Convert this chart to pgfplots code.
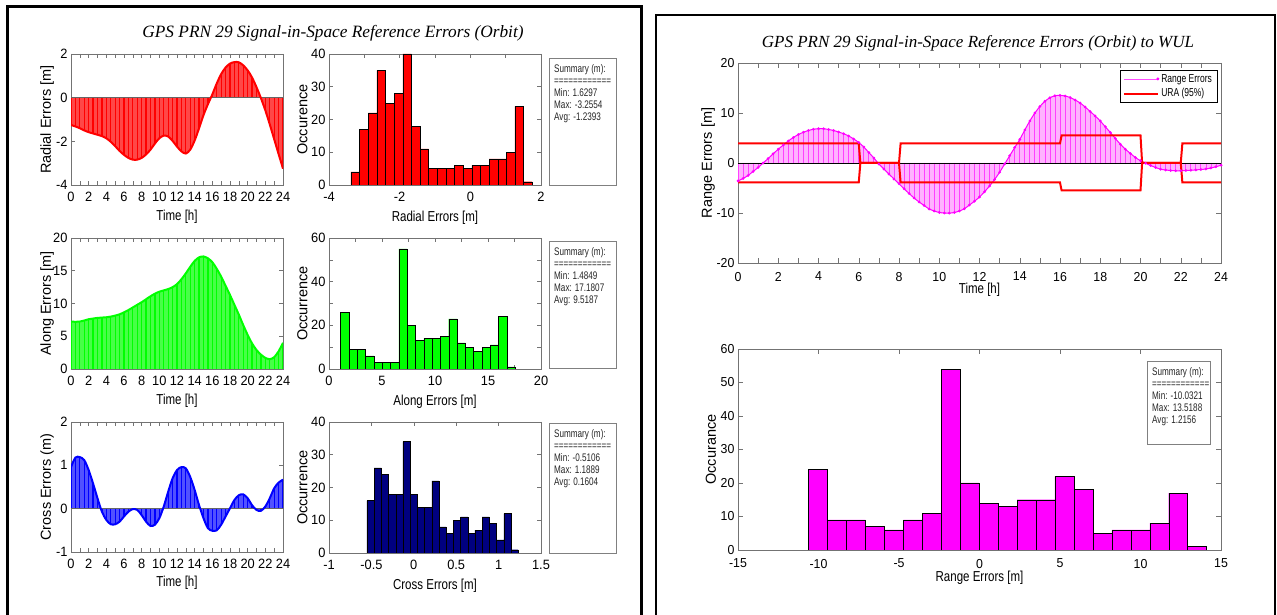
\documentclass[border=0pt]{standalone}
\usepackage{fontspec}
\usepackage{pgfplots}
\usepackage{pgfplotstable}
\pgfplotsset{compat=1.18}
\setmainfont{Liberation Sans}
\newfontfamily\tickfont[FakeStretch=0.95]{Liberation Sans}
\newfontfamily\labfont[FakeStretch=0.8]{Liberation Sans}
\newfontfamily\smallfont[FakeStretch=0.74]{Liberation Sans}
\newfontfamily\titlefont{Liberation Serif}
\definecolor{mag}{RGB}{255,0,255}
\definecolor{rd}{RGB}{255,0,0}
\definecolor{gr}{RGB}{0,255,0}
\definecolor{bl}{RGB}{0,0,255}
\definecolor{navy}{RGB}{0,0,128}

\pgfplotstableread{
t v
0 -1.25
0.5 -1.32
1 -1.40
1.5 -1.50
2 -1.58
2.5 -1.64
3 -1.70
3.5 -1.76
4 -1.86
4.5 -2.02
5 -2.22
5.5 -2.44
6 -2.62
6.5 -2.76
7 -2.84
7.5 -2.84
8 -2.76
8.5 -2.60
9 -2.38
9.5 -2.10
10 -1.86
10.5 -1.74
11 -1.78
11.5 -1.98
12 -2.24
12.5 -2.46
13 -2.56
13.5 -2.38
14 -1.96
14.5 -1.40
15 -0.80
15.5 -0.30
16 0.15
16.5 0.65
17 1.08
17.5 1.38
18 1.56
18.5 1.63
19 1.62
19.5 1.48
20 1.25
20.5 0.92
21 0.48
21.5 -0.02
22 -0.58
22.5 -1.22
23 -1.90
23.5 -2.58
24 -3.25
}\radial

\pgfplotstableread{
t v
0 7.25
0.5 7.2
1 7.25
1.5 7.4
2 7.6
2.5 7.7
3 7.8
3.5 7.85
4 7.9
4.5 8.0
5 8.15
5.5 8.35
6 8.65
6.5 9.0
7 9.4
7.5 9.8
8 10.2
8.5 10.65
9 11.1
9.5 11.5
10 11.8
10.5 12.0
11 12.2
11.5 12.5
12 12.95
12.5 13.7
13 14.6
13.5 15.6
14 16.5
14.5 17.05
15 17.18
15.5 16.9
16 16.3
16.5 15.3
17 14.1
17.5 12.7
18 11.3
18.5 9.8
19 8.3
19.5 6.7
20 5.2
20.5 3.9
21 2.9
21.5 2.2
22 1.7
22.5 1.5
23 1.8
23.5 2.7
24 4.0
}\along

\pgfplotstableread{
t v
0 0.96
0.5 1.18
1 1.19
1.5 1.12
2 0.89
2.5 0.58
3 0.24
3.5 -0.07
4 -0.26
4.5 -0.36
5 -0.36
5.5 -0.30
6 -0.18
6.5 -0.07
7 -0.01
7.5 -0.03
8 -0.15
8.5 -0.30
9 -0.40
9.5 -0.37
10 -0.22
10.5 0.05
11 0.39
11.5 0.70
12 0.89
12.5 0.96
13 0.93
13.5 0.73
14 0.43
14.5 0.08
15 -0.22
15.5 -0.45
16 -0.51
16.5 -0.50
17 -0.37
17.5 -0.18
18 0.01
18.5 0.20
19 0.31
19.5 0.33
20 0.24
20.5 0.08
21 -0.03
21.5 -0.05
22 0.05
22.5 0.24
23 0.47
23.5 0.60
24 0.67
}\cross

\pgfplotstableread{
t v
0 -3.6
0.25 -3.1
0.5 -2.5
0.75 -1.7
1 -0.9
1.25 0.0
1.5 0.9
1.75 1.85
2 2.75
2.25 3.6
2.5 4.4
2.75 5.1
3 5.7
3.25 6.15
3.5 6.5
3.75 6.75
4 6.85
4.25 6.85
4.5 6.7
4.75 6.5
5 6.2
5.25 5.85
5.5 5.4
5.75 4.8
6 4.1
6.25 3.2
6.5 2.1
6.75 1.0
7 -0.2
7.25 -1.2
7.5 -2.2
7.75 -3.2
8 -4.15
8.25 -5.15
8.5 -6.1
8.75 -7.0
9 -7.8
9.25 -8.5
9.5 -9.2
9.75 -9.6
10 -9.9
10.25 -10.0
10.5 -10.03
10.75 -9.9
11 -9.6
11.25 -9.15
11.5 -8.4
11.75 -7.65
12 -6.8
12.25 -5.75
12.5 -4.6
12.75 -3.3
13 -1.85
13.25 -0.2
13.5 1.45
13.75 3.1
14 4.7
14.25 6.6
14.5 8.4
14.75 10.0
15 11.3
15.25 12.35
15.5 13.05
15.75 13.45
16 13.52
16.25 13.4
16.5 13.1
16.75 12.6
17 12.0
17.25 11.2
17.5 10.3
17.75 9.4
18 8.4
18.25 7.25
18.5 6.1
18.75 4.9
19 3.75
19.25 2.75
19.5 1.9
19.75 1.1
20 0.45
20.25 -0.05
20.5 -0.5
20.75 -0.9
21 -1.25
21.25 -1.4
21.5 -1.5
21.75 -1.55
22 -1.55
22.25 -1.5
22.5 -1.45
22.75 -1.38
23 -1.3
23.25 -1.2
23.5 -1.0
23.75 -0.75
24 -0.45
}\range

\pgfplotstableread{
t v
0 3.9
6 3.9
6.08 0
8 0
8.08 3.9
16 3.9
16.08 5.5
20 5.5
20.08 0
22 0
22.08 3.9
24 3.9
}\uraup

\pgfplotstableread{
t v
0 -3.9
6 -3.9
6.08 0
8 0
8.08 -3.9
16 -3.9
16.08 -5.5
20 -5.5
20.08 0
22 0
22.08 -3.9
24 -3.9
}\uralow

\pgfplotstableread{
x n
-3.3775 4
-3.1333 17
-2.8890 22
-2.6448 35
-2.4005 25
-2.1563 28
-1.9120 40
-1.6678 18
-1.4235 11
-1.1793 5
-0.9350 5
-0.6908 5
-0.4465 6
-0.2023 5
0.0420 6
0.2862 6
0.5305 8
0.7747 8
1.0190 10
1.2632 24
1.5075 1
1.7517 0
}\radhist

\pgfplotstableread{
x n
1.0925 26
1.8773 9
2.6621 9
3.4469 6
4.2317 3
5.0165 3
5.8012 3
6.5860 55
7.3708 20
8.1556 13
8.9404 14
9.7252 14
10.5100 15
11.2948 23
12.0796 12
12.8644 10
13.6491 8
14.4339 10
15.2187 11
16.0035 24
16.7883 1
17.5731 0
}\alonghist

\pgfplotstableread{
x n
-0.5531 16
-0.4681 26
-0.3831 24
-0.2982 18
-0.2132 18
-0.1282 34
-0.0432 18
0.0417 14
0.1267 14
0.2117 22
0.2967 8
0.3816 6
0.4666 10
0.5516 11
0.6366 6
0.7215 7
0.8065 11
0.8915 9
0.9765 4
1.0614 12
1.1464 1
1.2314 0
}\crosshist

\pgfplotstableread{
x n
-10.6209 24
-9.4433 9
-8.2658 9
-7.0882 7
-5.9107 6
-4.7331 9
-3.5556 11
-2.3781 54
-1.2005 20
-0.0230 14
1.1546 13
2.3321 15
3.5097 15
4.6872 22
5.8648 18
7.0423 5
8.2199 6
9.3974 6
10.5749 8
11.7525 17
12.9300 1
14.1076 0
}\rangehist

\pgfplotsset{
  mat/.style={
    scale only axis, anchor=south west,
    axis line style={black!55, line width=0.6pt},
    tick style={black!55, line width=0.5pt},
    tick align=inside, tick pos=both,
    major tick length=4pt, minor tick length=4pt,
    /pgf/number format/assume math mode=true,
    tick label style={font=\tickfont\fontsize{13.5}{13.5}\selectfont},
    xticklabel style={yshift=-4pt},
    xlabel style={font=\labfont\fontsize{14.4}{14.4}\selectfont, anchor=center},
    ylabel style={font=\fontsize{14.5}{14.5}\selectfont, anchor=center},
  },
  tplot/.style={mat, xmin=0, xmax=24, xtick={0,2,...,24}, minor x tick num=1,
    width=212pt, height=131pt, xlabel={Time [h]},
    xlabel style={at={(axis description cs:0.5,-0.24)}},
    ylabel style={at={(axis description cs:-0.113,0.5)}}},
  hplot/.style={mat, width=212pt, height=131pt,
    xlabel style={at={(axis description cs:0.5,-0.25)}},
    ylabel style={at={(axis description cs:-0.125,0.5)}}},
  rplot/.style={mat, width=483pt, major tick length=5pt, minor tick length=5pt,
    tick label style={font=\tickfont\fontsize{13}{13}\selectfont},
    xticklabel style={yshift=-1.5pt}},
}

\newcommand{\sumbox}[7]{%
  \draw[black!50, line width=0.6pt] (#1pt,#2pt) rectangle (#3pt,#4pt);
  \begin{scope}[shift={(#1pt,#2pt)}, every node/.style={anchor=base west, inner sep=0pt, text=black!85, font=\smallfont\fontsize{11}{11}\selectfont}]
    \node at (5pt,-14.5pt) {Summary (m):};
    \node at (5pt,-27pt) {============};
    \node at (5pt,-38.5pt) {Min: #5};
    \node at (5pt,-50.5pt) {Max: #6};
    \node at (5pt,-62.5pt) {Avg: #7};
  \end{scope}}

\begin{document}
\begin{tikzpicture}[x=1pt,y=1pt]
\path[use as bounding box, fill=white] (0,0) rectangle (1277,615);

% frames
\draw[black, line width=3pt] (7.5,-20) -- (7.5,608) -- (641,608) -- (641,-20);
\draw[black, line width=2pt] (655.5,-20) -- (655.5,599.5) -- (1274.5,599.5) -- (1274.5,-20);

% titles
\node[anchor=base, inner sep=0pt, font=\titlefont\itshape\fontsize{17.3}{17.3}\selectfont] at (333,577) {GPS PRN 29 Signal-in-Space Reference Errors (Orbit)};
\node[anchor=base, inner sep=0pt, font=\titlefont\itshape\fontsize{17}{17}\selectfont] at (978,567) {GPS PRN 29 Signal-in-Space Reference Errors (Orbit) to WUL};

% ---- Radial
\begin{axis}[tplot, at={(71pt,430pt)}, ymin=-4, ymax=2, ytick={-4,-2,0,2}, ylabel={Radial Errors [m]}]
\addplot[fill=rd!72, draw=none, smooth, forget plot] table[x=t,y=v]{\radial} \closedcycle;
\addplot[ycomb, draw=rd, line width=1.3pt, forget plot] table[x=t,y=v]{\radial};
\addplot[black!60, line width=0.6pt, forget plot] coordinates {(0,0) (24,0)};
\addplot[rd, line width=2pt, smooth] table[x=t,y=v]{\radial};
\end{axis}
\begin{axis}[hplot, at={(329pt,430pt)}, xmin=-4, xmax=2, xtick={-4,-2,0,2}, minor x tick num=1,
  ymin=0, ymax=40, ytick={0,10,...,40}, xlabel={Radial Errors [m]}, ylabel={Occurence}]
\addplot[ybar interval, fill=rd, draw=black, line width=0.4pt] table[x=x,y=n]{\radhist};
\end{axis}
\sumbox{549}{557}{616}{430}{1.6297}{-3.2554}{-1.2393}

% ---- Along
\begin{axis}[tplot, at={(71pt,246pt)}, ymin=0, ymax=20, ytick={0,5,...,20}, ylabel={Along Errors [m]}]
\addplot[fill=gr!72, draw=none, smooth, forget plot] table[x=t,y=v]{\along} \closedcycle;
\addplot[ycomb, draw=gr, line width=1.3pt, forget plot] table[x=t,y=v]{\along};
\addplot[gr, line width=2pt, smooth] table[x=t,y=v]{\along};
\end{axis}
\begin{axis}[hplot, at={(329pt,246pt)}, xmin=0, xmax=20, xtick={0,5,...,20}, minor x tick num=1,
  ymin=0, ymax=60, ytick={0,20,40,60}, minor y tick num=1, xlabel={Along Errors [m]}, ylabel={Occurrence}]
\addplot[ybar interval, fill=gr, draw=black, line width=0.4pt] table[x=x,y=n]{\alonghist};
\end{axis}
\sumbox{549}{374}{616}{247}{1.4849}{17.1807}{9.5187}

% ---- Cross
\begin{axis}[tplot, at={(71pt,63pt)}, height=130pt, ymin=-1, ymax=2, ytick={-1,0,1,2}, ylabel={Cross Errors (m)}]
\addplot[fill=bl!68, draw=none, smooth, forget plot] table[x=t,y=v]{\cross} \closedcycle;
\addplot[ycomb, draw=bl, line width=1.3pt, forget plot] table[x=t,y=v]{\cross};
\addplot[black!60, line width=0.6pt, forget plot] coordinates {(0,0) (24,0)};
\addplot[bl, line width=2pt, smooth] table[x=t,y=v]{\cross};
\end{axis}
\begin{axis}[hplot, at={(329pt,62pt)}, xmin=-1, xmax=1.5, xtick={-1,-0.5,0,0.5,1,1.5},
  ymin=0, ymax=40, ytick={0,10,...,40}, xlabel={Cross Errors [m]}, ylabel={Occurrence}]
\addplot[ybar interval, fill=navy, draw=black, line width=0.4pt] table[x=x,y=n]{\crosshist};
\end{axis}
\sumbox{549}{192}{616}{62}{-0.5106}{1.1889}{0.1604}

% ---- Range time
\begin{axis}[rplot, at={(738pt,352pt)}, height=200pt, xmin=0, xmax=24, xtick={0,2,...,24}, minor x tick num=1,
  ymin=-20, ymax=20, ytick={-20,-10,...,20}, xlabel={Time [h]}, ylabel={Range Errors [m]},
  xlabel style={at={(axis description cs:0.5,-0.135)}},
  ylabel style={at={(axis description cs:-0.062,0.5)}},
  legend style={at={(0.992,0.965)}, anchor=north east, draw=black, line width=0.5pt,
    font=\smallfont\fontsize{11.5}{12}\selectfont, inner xsep=3pt, inner ysep=2pt, row sep=1pt,
    cells={anchor=west}}]
\addplot[fill=mag!30, draw=none, smooth, forget plot] table[x=t,y=v]{\range} \closedcycle;
\addplot[ycomb, draw=mag!75, line width=0.8pt, forget plot] table[x=t,y=v]{\range};
\addplot[black, line width=0.6pt, forget plot] coordinates {(0,0) (24,0)};
\addplot[mag, line width=1pt, smooth, mark=*, mark size=0.8pt,
  legend image code/.code={\draw[mag!70, line width=0.6pt] (0pt,0pt) -- (34pt,0pt); \fill[mag] (34pt,0pt) circle (0.9pt);}]
  table[x=t,y=v]{\range};
\addlegendentry{Range Errors}
\addplot[rd, line width=2pt,
  legend image code/.code={\draw[rd, line width=2pt] (0pt,0pt) -- (34pt,0pt);}]
  table[x=t,y=v]{\uraup};
\addlegendentry{URA (95\%)}
\addplot[rd, line width=2pt, forget plot] table[x=t,y=v]{\uralow};
\end{axis}

% ---- Range hist
\begin{axis}[rplot, at={(738pt,65pt)}, height=201pt, xmin=-15, xmax=15, xtick={-15,-10,...,15},
  ymin=0, ymax=60, ytick={0,10,...,60}, xlabel={Range Errors [m]}, ylabel={Occurance},
  xlabel style={at={(axis description cs:0.5,-0.137)}},
  ylabel style={at={(axis description cs:-0.056,0.5)}}]
\addplot[ybar interval, fill=mag, draw=black, line width=0.4pt] table[x=x,y=n]{\rangehist};
\end{axis}
\sumbox{1147}{254}{1210}{171}{-10.0321}{13.5188}{1.2156}

\end{tikzpicture}
\end{document}
